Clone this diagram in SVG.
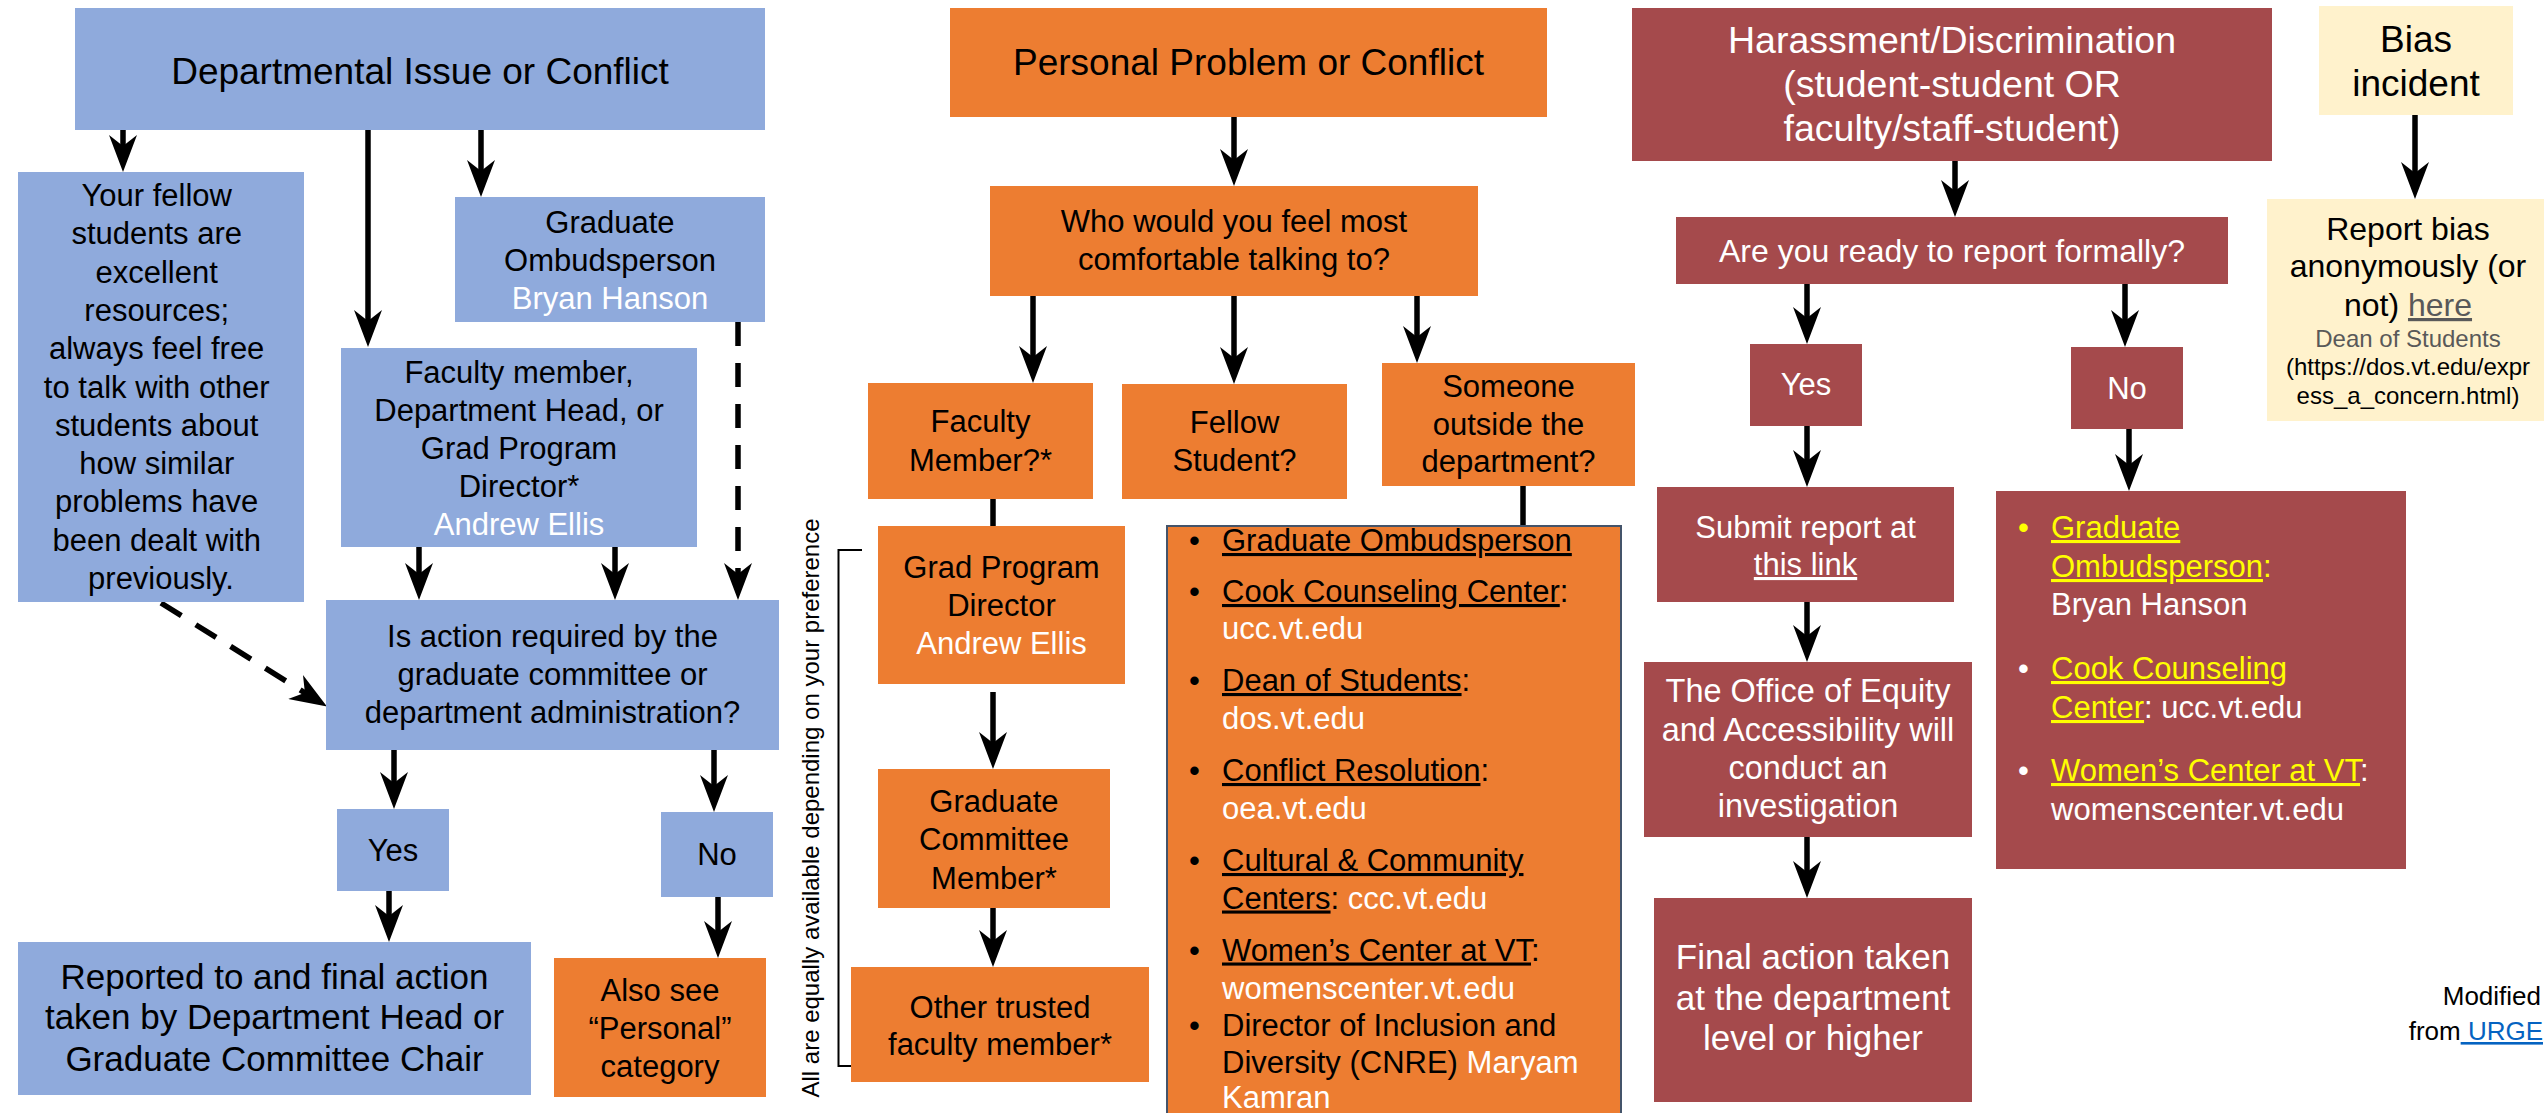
<svg xmlns="http://www.w3.org/2000/svg" width="2544" height="1113" viewBox="0 0 2544 1113">
<style>
text{font-family:"Liberation Sans",Arial,sans-serif;fill:#000}
.c{text-anchor:middle}
.blue{fill:#8FAADC}
.orange{fill:#ED7D31}
.maroon{fill:#A54A4C}
.cream{fill:#FFF2CC}
.w{fill:#FFFFFF}
.y{fill:#FFFF00}
.g{fill:#595959}
.u{text-decoration:underline}
.f37{font-size:37px}
.f35{font-size:35px}
.f32{font-size:32px}
.f31{font-size:31px}
.f24{font-size:24px}
.conn{stroke:#000;stroke-width:5.5;fill:none}
.dash{stroke-dasharray:24 17}
.arr{marker-end:url(#ah)}
</style>
<defs>
<marker id="ah" viewBox="0 -14 37 28" markerWidth="37" markerHeight="28" refX="17" refY="0" orient="auto" markerUnits="userSpaceOnUse">
<path d="M0,-14 L37,0 L0,14 L11,0 Z" fill="#000"/>
</marker>
</defs>
<rect width="2544" height="1113" fill="#FFFFFF"/>

<g id="connectors">
<path class="conn arr" d="M123,130 V152"/>
<path class="conn arr" d="M368,130 V327"/>
<path class="conn arr" d="M481,130 V177"/>
<path class="conn arr" d="M419,547 V580"/>
<path class="conn arr" d="M615,547 V580"/>
<path class="conn arr dash" d="M738,322 V580"/>
<path class="conn arr dash" d="M161,603 L310,696"/>
<path class="conn arr" d="M394,750 V789"/>
<path class="conn arr" d="M714,750 V792"/>
<path class="conn arr" d="M389,891 V922"/>
<path class="conn arr" d="M718,897 V938"/>
<path class="conn arr" d="M1234,117 V166"/>
<path class="conn arr" d="M1033,296 V363"/>
<path class="conn arr" d="M1234,296 V364"/>
<path class="conn arr" d="M1417,296 V343"/>
<path class="conn" d="M993,499 V526"/>
<path class="conn" d="M1523,486 V526"/>
<path class="conn arr" d="M993,692 V749"/>
<path class="conn arr" d="M993,908 V947"/>
<path class="conn arr" d="M1955,161 V197"/>
<path class="conn arr" d="M1807,284 V324"/>
<path class="conn arr" d="M2125,284 V327"/>
<path class="conn arr" d="M1807,426 V467"/>
<path class="conn arr" d="M2129,429 V471"/>
<path class="conn arr" d="M1807,602 V642"/>
<path class="conn arr" d="M1807,837 V878"/>
<path class="conn arr" d="M2415,115 V179"/>
<path d="M862,550 H838.5 V1066 H860" fill="none" stroke="#000" stroke-width="2"/>
</g>

<g id="dept-title">
<rect class="blue" x="75" y="8" width="690" height="122"/>
<text class="c f37" x="420" y="84">Departmental Issue or Conflict</text>
</g>

<g id="fellow-students">
<rect class="blue" x="18" y="172" width="286" height="430"/>
<text class="c f31" x="161">
<tspan x="161" y="206">Your fellow</tspan>
<tspan x="161" y="244.3">students are</tspan>
<tspan x="161" y="282.6">excellent</tspan>
<tspan x="161" y="320.9">resources;</tspan>
<tspan x="161" y="359.2">always feel free</tspan>
<tspan x="161" y="397.5">to talk with other</tspan>
<tspan x="161" y="435.8">students about</tspan>
<tspan x="161" y="474.1">how similar</tspan>
<tspan x="161" y="512.4">problems have</tspan>
<tspan x="161" y="550.7">been dealt with</tspan>
<tspan x="161" y="589">previously.</tspan>
</text>
</g>

<g id="grad-ombuds">
<rect class="blue" x="455" y="197" width="310" height="125"/>
<text class="c f31"><tspan x="610" y="233">Graduate</tspan><tspan x="610" y="271">Ombudsperson</tspan><tspan class="w" x="610" y="309">Bryan Hanson</tspan></text>
</g>

<g id="faculty-head">
<rect class="blue" x="341" y="348" width="356" height="199"/>
<text class="c f31"><tspan x="519" y="383">Faculty member,</tspan><tspan x="519" y="421">Department Head, or</tspan><tspan x="519" y="459">Grad Program</tspan><tspan x="519" y="497">Director*</tspan><tspan class="w" x="519" y="535">Andrew Ellis</tspan></text>
</g>

<g id="action-required">
<rect class="blue" x="326" y="600" width="453" height="150"/>
<text class="c f31"><tspan x="552.5" y="647">Is action required by the</tspan><tspan x="552.5" y="685">graduate committee or</tspan><tspan x="552.5" y="723">department administration?</tspan></text>
</g>

<g id="dept-yes">
<rect class="blue" x="337" y="809" width="112" height="82"/>
<text class="c f31" x="393" y="861">Yes</text>
</g>

<g id="dept-no">
<rect class="blue" x="661" y="812" width="112" height="85"/>
<text class="c f31" x="717" y="865">No</text>
</g>

<g id="reported">
<rect class="blue" x="18" y="942" width="513" height="153"/>
<text class="c f35"><tspan x="274.5" y="989">Reported to and final action</tspan><tspan x="274.5" y="1029">taken by Department Head or</tspan><tspan x="274.5" y="1071">Graduate Committee Chair</tspan></text>
</g>

<g id="also-see">
<rect class="orange" x="554" y="958" width="212" height="139"/>
<text class="c f31"><tspan x="660" y="1001">Also see</tspan><tspan x="660" y="1039">“Personal”</tspan><tspan x="660" y="1077">category</tspan></text>
</g>

<g id="personal-title">
<rect class="orange" x="950" y="8" width="597" height="109"/>
<text class="c f37" x="1248.5" y="75">Personal Problem or Conflict</text>
</g>

<g id="who">
<rect class="orange" x="990" y="186" width="488" height="110"/>
<text class="c f31"><tspan x="1234" y="232">Who would you feel most</tspan><tspan x="1234" y="270">comfortable talking to?</tspan></text>
</g>

<g id="faculty-member">
<rect class="orange" x="868" y="383" width="225" height="116"/>
<text class="c f31"><tspan x="980.5" y="432">Faculty</tspan><tspan x="980.5" y="471">Member?*</tspan></text>
</g>

<g id="fellow-student">
<rect class="orange" x="1122" y="384" width="225" height="115"/>
<text class="c f31"><tspan x="1234.5" y="433">Fellow</tspan><tspan x="1234.5" y="471">Student?</tspan></text>
</g>

<g id="someone-outside">
<rect class="orange" x="1382" y="363" width="253" height="123"/>
<text class="c f31"><tspan x="1508.5" y="397">Someone</tspan><tspan x="1508.5" y="435">outside the</tspan><tspan x="1508.5" y="472">department?</tspan></text>
</g>

<g id="grad-director">
<rect class="orange" x="878" y="526" width="247" height="158"/>
<text class="c f31"><tspan x="1001.5" y="578">Grad Program</tspan><tspan x="1001.5" y="616">Director</tspan><tspan class="w" x="1001.5" y="654">Andrew Ellis</tspan></text>
</g>

<g id="grad-committee">
<rect class="orange" x="878" y="769" width="232" height="139"/>
<text class="c f31"><tspan x="994" y="812">Graduate</tspan><tspan x="994" y="850">Committee</tspan><tspan x="994" y="889">Member*</tspan></text>
</g>

<g id="other-trusted">
<rect class="orange" x="851" y="967" width="298" height="115"/>
<text class="c f31"><tspan x="1000" y="1018">Other trusted</tspan><tspan x="1000" y="1055">faculty member*</tspan></text>
</g>

<g id="equally-available">
<text class="c f24" transform="translate(819,808) rotate(-90)">All are equally available depending on your preference</text>
</g>

<g id="outside-resources">
<rect class="orange" x="1167" y="526" width="454" height="600" stroke="#44546A" stroke-width="2"/>
<text class="f31">
<tspan x="1189" y="551">•</tspan><tspan x="1222" y="551" class="u">Graduate Ombudsperson</tspan>
<tspan x="1189" y="602">•</tspan><tspan x="1222" y="602" class="u">Cook Counseling Center</tspan><tspan>:</tspan>
<tspan x="1222" y="639" class="w">ucc.vt.edu</tspan>
<tspan x="1189" y="691">•</tspan><tspan x="1222" y="691" class="u">Dean of Students</tspan><tspan>:</tspan>
<tspan x="1222" y="729" class="w">dos.vt.edu</tspan>
<tspan x="1189" y="781">•</tspan><tspan x="1222" y="781" class="u">Conflict Resolution</tspan><tspan>:</tspan>
<tspan x="1222" y="819" class="w">oea.vt.edu</tspan>
<tspan x="1189" y="871">•</tspan><tspan x="1222" y="871" class="u">Cultural &amp; Community</tspan>
<tspan x="1222" y="908.5" class="u">Centers</tspan><tspan>: </tspan><tspan class="w">ccc.vt.edu</tspan>
<tspan x="1189" y="960.5">•</tspan><tspan x="1222" y="960.5" class="u">Women’s Center at VT</tspan><tspan>:</tspan>
<tspan x="1222" y="998.5" class="w">womenscenter.vt.edu</tspan>
<tspan x="1189" y="1036">•</tspan><tspan x="1222" y="1036">Director of Inclusion and</tspan>
<tspan x="1222" y="1073">Diversity (CNRE) </tspan><tspan class="w">Maryam</tspan>
<tspan x="1222" y="1108" class="w">Kamran</tspan>
</text>
</g>

<g id="harassment-title">
<rect class="maroon" x="1632" y="8" width="640" height="153"/>
<text class="c f37 w" style="font-size:37.5px"><tspan x="1952" y="53">Harassment/Discrimination</tspan><tspan x="1952" y="97">(student-student OR</tspan><tspan x="1952" y="141">faculty/staff-student)</tspan></text>
</g>

<g id="ready">
<rect class="maroon" x="1676" y="217" width="552" height="67"/>
<text class="c f32 w" x="1952" y="262">Are you ready to report formally?</text>
</g>

<g id="harass-yes">
<rect class="maroon" x="1750" y="344" width="112" height="82"/>
<text class="c f31 w" x="1806" y="395">Yes</text>
</g>

<g id="harass-no">
<rect class="maroon" x="2071" y="347" width="112" height="82"/>
<text class="c f31 w" x="2127" y="399">No</text>
</g>

<g id="submit-report">
<rect class="maroon" x="1657" y="487" width="297" height="115"/>
<text class="c f31 w"><tspan x="1805.5" y="538">Submit report at</tspan><tspan x="1805.5" y="575" class="u">this link</tspan></text>
</g>

<g id="office-equity">
<rect class="maroon" x="1644" y="662" width="328" height="175"/>
<text class="c w" style="font-size:32.5px"><tspan x="1808" y="702">The Office of Equity</tspan><tspan x="1808" y="741">and Accessibility will</tspan><tspan x="1808" y="779">conduct an</tspan><tspan x="1808" y="817">investigation</tspan></text>
</g>

<g id="final-action">
<rect class="maroon" x="1654" y="898" width="318" height="204"/>
<text class="c f35 w"><tspan x="1813" y="969">Final action taken</tspan><tspan x="1813" y="1010">at the department</tspan><tspan x="1813" y="1050">level or higher</tspan></text>
</g>

<g id="no-resources">
<rect class="maroon" x="1996" y="491" width="410" height="378"/>
<text class="f31 w">
<tspan x="2018" y="538" class="y">•</tspan><tspan x="2051" y="538" class="y u">Graduate</tspan>
<tspan x="2051" y="577" class="y u">Ombudsperson</tspan><tspan class="y">:</tspan>
<tspan x="2051" y="615">Bryan Hanson</tspan>
<tspan x="2018" y="679">•</tspan><tspan x="2051" y="679" class="y u">Cook Counseling</tspan>
<tspan x="2051" y="718" class="y u">Center</tspan><tspan>: ucc.vt.edu</tspan>
<tspan x="2018" y="781">•</tspan><tspan x="2051" y="781" class="y u">Women’s Center at VT</tspan><tspan>:</tspan>
<tspan x="2051" y="820">womenscenter.vt.edu</tspan>
</text>
</g>

<g id="bias-title">
<rect class="cream" x="2319" y="6" width="194" height="109"/>
<text class="c f37"><tspan x="2416" y="52">Bias</tspan><tspan x="2416" y="96">incident</tspan></text>
</g>

<g id="bias-report">
<rect class="cream" x="2267" y="199" width="280" height="222"/>
<text class="c f32"><tspan x="2408" y="240">Report bias</tspan><tspan x="2408" y="277">anonymously (or</tspan><tspan x="2408" y="316">not) <tspan class="g u">here</tspan></tspan></text>
<text class="c f24"><tspan x="2408" y="346.5" class="g">Dean of Students</tspan><tspan x="2408" y="375">(https://dos.vt.edu/expr</tspan><tspan x="2408" y="403.5">ess_a_concern.html)</tspan></text>
</g>

<g id="credit">
<text style="font-size:26px;text-anchor:end"><tspan x="2541" y="1005">Modified</tspan><tspan x="2543" y="1040">from<tspan class="u" style="fill:#0563C1"> URGE</tspan></tspan></text>
</g>
</svg>
